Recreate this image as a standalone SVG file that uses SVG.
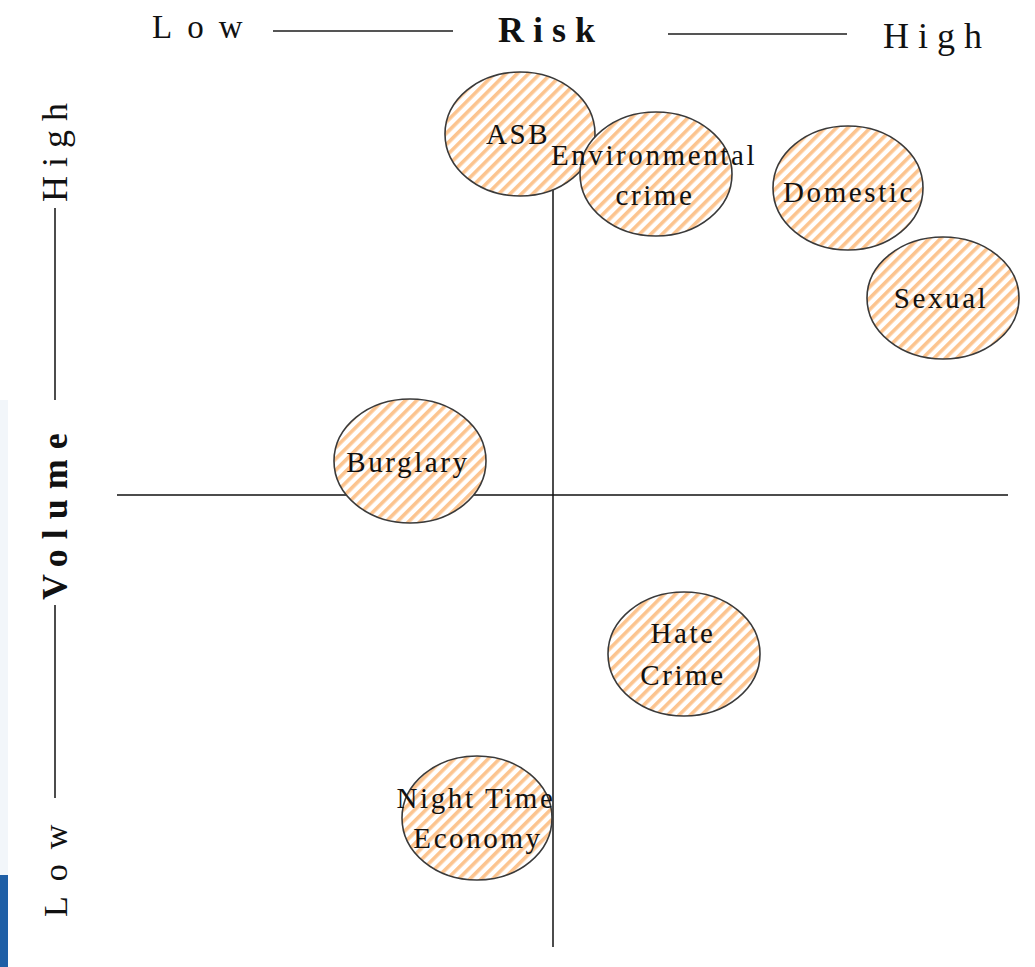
<svg xmlns="http://www.w3.org/2000/svg" width="1035" height="967" viewBox="0 0 1035 967">
  <defs>
    <pattern id="hatch" patternUnits="userSpaceOnUse" width="8" height="8" patternTransform="rotate(45)">
      <rect x="0" y="0" width="8" height="8" fill="#ffffff"/>
      <rect x="0" y="0" width="3.6" height="8" fill="#fcc48f"/>
    </pattern>
  </defs>
  <style>
    .bubble { fill: url(#hatch); stroke: #3a3a3a; stroke-width: 1.6; }
    .lbl { font-family: "Liberation Serif", "Times New Roman", serif; font-size: 29px; letter-spacing: 2.6px; fill: #111; text-anchor: middle; }
    .axis { stroke: #111; stroke-width: 1.5; fill: none; }
    .hdr { font-family: "Liberation Serif", "Times New Roman", serif; fill: #111; }
    .rule { stroke: #555; stroke-width: 2.2; }
  </style>
  <rect x="0" y="0" width="1035" height="967" fill="#ffffff"/>
  <rect x="0" y="400" width="8" height="475" fill="#f2f6fa"/>
  <rect x="0" y="875" width="8" height="92" fill="#1f5fa6"/>

  <g id="risk-axis-title">
    <text class="hdr" x="152" y="38" font-size="33" letter-spacing="15">Low</text>
    <line class="rule" x1="273" y1="31" x2="453" y2="31"/>
    <text class="hdr" x="498" y="42" font-size="36" font-weight="bold" letter-spacing="9">Risk</text>
    <line class="rule" x1="668" y1="34" x2="847" y2="34"/>
    <text class="hdr" x="883" y="48" font-size="36" letter-spacing="9">High</text>
  </g>

  <g id="volume-axis-title">
    <text class="hdr" transform="translate(67,917) rotate(-90)" font-size="34" letter-spacing="15">Low</text>
    <line class="axis" x1="55" y1="798" x2="55" y2="605"/>
    <text class="hdr" transform="translate(67,600) rotate(-90)" font-size="36" font-weight="bold" letter-spacing="10">Volume</text>
    <line class="axis" x1="55" y1="400" x2="55" y2="208"/>
    <text class="hdr" transform="translate(67,202) rotate(-90)" font-size="36" letter-spacing="9">High</text>
  </g>

  <g id="connectors">
    <line class="axis" x1="553" y1="160" x2="553" y2="947"/>
    <line class="axis" x1="117" y1="495" x2="1008" y2="495"/>
  </g>

  <g id="node-asb">
    <ellipse class="bubble" cx="520" cy="134" rx="75" ry="62"/>
    <text class="lbl" x="518" y="144">ASB</text>
  </g>
  <g id="node-environmental">
    <ellipse class="bubble" cx="656" cy="174" rx="76" ry="62"/>
    <text class="lbl" x="654" y="165">Environmental</text>
    <text class="lbl" x="655" y="205">crime</text>
  </g>
  <g id="node-domestic">
    <ellipse class="bubble" cx="848" cy="188" rx="75" ry="62"/>
    <text class="lbl" x="849" y="202">Domestic</text>
  </g>
  <g id="node-sexual">
    <ellipse class="bubble" cx="943" cy="298" rx="76" ry="61"/>
    <text class="lbl" x="941" y="308">Sexual</text>
  </g>
  <g id="node-burglary">
    <ellipse class="bubble" cx="410" cy="461" rx="76" ry="62"/>
    <text class="lbl" x="408" y="472">Burglary</text>
  </g>
  <g id="node-hate-crime">
    <ellipse class="bubble" cx="684" cy="654" rx="76" ry="62"/>
    <text class="lbl" x="683" y="643">Hate</text>
    <text class="lbl" x="683" y="685">Crime</text>
  </g>
  <g id="node-night-time-economy">
    <ellipse class="bubble" cx="477" cy="818" rx="75" ry="62"/>
    <text class="lbl" x="476" y="808">Night Time</text>
    <text class="lbl" x="478" y="848">Economy</text>
  </g>
</svg>
